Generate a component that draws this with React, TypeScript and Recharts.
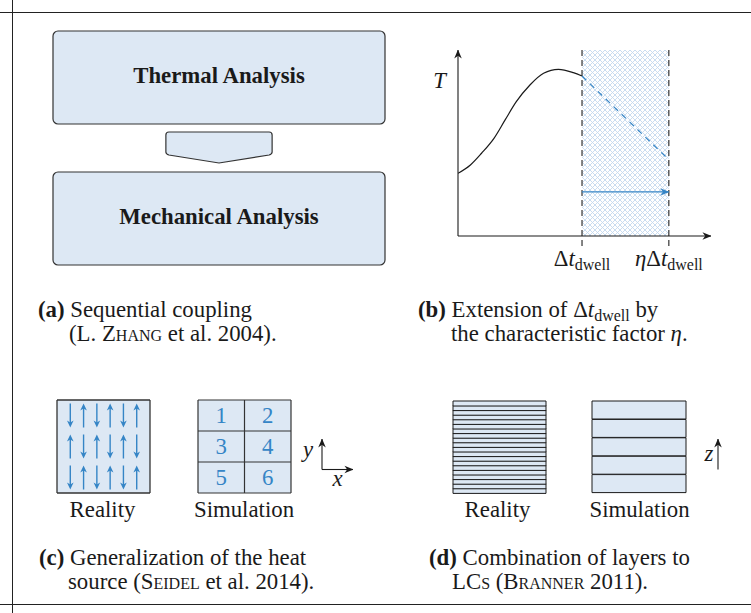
import React from "react";
import {
  Bar,
  BarChart,
  CartesianGrid,
  Line,
  LineChart,
  Rectangle,
  ReferenceArea,
  ReferenceLine,
  Scatter,
  ScatterChart,
  XAxis,
  YAxis,
} from "recharts";

const SERIF = '"Liberation Serif", "Times New Roman", serif';
const INK = "#1a1a1a";
const EDGE = "#333333";
const PALE = "#dde8f4";
const BLUE = "#3585c6";
const HATCH = "#c3d8ee";

// (a) sequential coupling
const stages = ["Thermal Analysis", "Mechanical Analysis"];

// (b) normalised temperature history
const curveTime = [0, 0.1, 0.19, 0.29, 0.38, 0.47, 0.58, 0.69, 0.81, 0.93, 1];
const curveTemp = [0.337, 0.382, 0.445, 0.525, 0.624, 0.722, 0.812, 0.875, 0.896, 0.878, 0.86];
const dwellEnds = [1, 1.7]; // Δt_dwell, ηΔt_dwell
const extendedTemp = [0.86, 0.41];
const shiftLevel = 0.237;
const tempLabelLevel = 0.833;

// (c) heat source directions and simulation cells
const realityFlow = [
  ["down", "up", "down", "up", "down", "up"],
  ["up", "down", "up", "down", "up", "down"],
  ["down", "up", "down", "up", "down", "up"],
];
const cellNumbers = [
  [1, 2],
  [3, 4],
  [5, 6],
];

// (d) layers, bottom to top
const realityLayers = [1, 2, 3, 4, 5, 6, 7, 8, 9, 10, 11, 12, 13, 14, 15, 16, 17, 18, 19, 20];
const simulationLayers = [1, 2, 3, 4, 5];

const stageRows = stages.map((stage) => ({ stage, span: 1 }));
const curveRows = curveTime.map((t, i) => ({ t, T: curveTemp[i] }));
const extendedRows = dwellEnds.map((t, i) => ({ t, T: extendedTemp[i] }));
const flowPoints = realityFlow.flatMap((row, r) => row.map((dir, c) => ({ col: c, row: r, dir })));
const cellPoints = cellNumbers.flatMap((row, r) => row.map((n, c) => ({ col: c + 0.5, row: r + 0.5, n })));
const realityRows = realityLayers.map((layer) => ({ layer, span: 1 }));
const simulationRows = simulationLayers.map((layer) => ({ layer, span: 1 }));

const textStyle = { fontFamily: SERIF, fontSize: 22.8, fill: INK };
const SUB = 16;

function StageBox(props: any) {
  const { x, y, width, height, index, payload } = props;
  const cx = x + width / 2;
  const top = y + height + 8;
  const half = width * 0.16;
  return (
    <g>
      <Rectangle x={x} y={y} width={width} height={height} radius={5} fill={PALE} stroke={EDGE} strokeWidth={1.2} />
      <text x={cx} y={y + height / 2 + 5.5} textAnchor="middle" fontWeight="bold" {...textStyle}>
        {payload.stage}
      </text>
      {index === 0 && (
        <path
          d={`M${cx - half},${top + 3} Q${cx - half},${top} ${cx - half + 3},${top} L${cx + half - 3},${top} Q${cx + half},${top} ${cx + half},${top + 3} L${cx + half},${top + 20} Q${cx + half},${top + 22} ${cx + half - 3},${top + 23} L${cx},${top + 31} L${cx - half + 3},${top + 23} Q${cx - half},${top + 22} ${cx - half},${top + 20} Z`}
          fill={PALE}
          stroke={EDGE}
          strokeWidth={1.2}
        />
      )}
    </g>
  );
}

function FlowArrow(props: any) {
  const { cx, cy, payload } = props;
  const s = payload.dir === "up" ? -1 : 1;
  const tail = cy - s * 12;
  const tip = cy + s * 12;
  return (
    <g>
      <line x1={cx} y1={tail} x2={cx} y2={tip - s * 4} stroke={BLUE} strokeWidth={1.4} />
      <path
        d={`M${cx},${tip} L${cx - 3.3},${tip - s * 7} L${cx},${tip - s * 5} L${cx + 3.3},${tip - s * 7} Z`}
        fill={BLUE}
      />
    </g>
  );
}

function CellNumber(props: any) {
  const { cx, cy, payload } = props;
  return (
    <text x={cx} y={cy + 7.8} textAnchor="middle" {...textStyle} fill={BLUE}>
      {payload.n}
    </text>
  );
}

function DwellTick(props: any) {
  const { x, y, payload } = props;
  return (
    <text x={x} y={y + 30} textAnchor="middle" {...textStyle}>
      {payload.value > 1 && <tspan fontStyle="italic">η</tspan>}
      <tspan>Δ</tspan>
      <tspan fontStyle="italic">t</tspan>
      <tspan fontSize={SUB} dy={4}>
        dwell
      </tspan>
    </text>
  );
}

function TempTick(props: any) {
  const { x, y } = props;
  return (
    <text x={x - 12} y={y + 7} textAnchor="end" fontStyle="italic" {...textStyle}>
      T
    </text>
  );
}

function Place({ left, top, children }: { left: number; top: number; children: React.ReactNode }) {
  return <div style={{ position: "absolute", left, top }}>{children}</div>;
}

// a stack of layers, one bar per layer, filling the whole plot
function LayerStack({ rows, width, height }: { rows: { layer: number; span: number }[]; width: number; height: number }) {
  return (
    <BarChart layout="vertical" width={width} height={height} data={rows} margin={box} barCategoryGap={0}>
      <XAxis type="number" domain={[0, 1]} hide />
      <YAxis type="category" dataKey="layer" reversed hide />
      <Bar dataKey="span" fill={PALE} stroke={INK} strokeWidth={1} isAnimationActive={false} />
    </BarChart>
  );
}

const box = { top: 1, right: 1, bottom: 1, left: 1 };
const sc = { fontVariant: "small-caps" } as const;

export default function App() {
  return (
    <div style={{ position: "absolute", left: 0, top: 0, width: 751, height: 613, background: "#fff" }}>
      <svg width={751} height={613} style={{ position: "absolute", left: 0, top: 0 }}>
        <defs>
          <marker id="tip-ink" viewBox="0 0 10 10" refX="9.5" refY="5" markerWidth="9" markerHeight="9" markerUnits="userSpaceOnUse" orient="auto-start-reverse">
            <path d="M0,0.8 L10,5 L0,9.2 L3,5 Z" fill={INK} />
          </marker>
          <marker id="tip-blue" viewBox="0 0 10 10" refX="9.5" refY="5" markerWidth="9" markerHeight="9" markerUnits="userSpaceOnUse" orient="auto-start-reverse">
            <path d="M0,0.8 L10,5 L0,9.2 L3,5 Z" fill={BLUE} />
          </marker>
          <pattern id="crosshatch" width="5" height="5" patternUnits="userSpaceOnUse">
            <path d="M0,0 L5,5 M5,0 L0,5" stroke={HATCH} strokeWidth={0.9} />
          </pattern>
        </defs>

        <g stroke="#222" strokeWidth={1}>
          <line x1={0} y1={12.5} x2={751} y2={12.5} />
          <line x1={12.5} y1={0} x2={12.5} y2={613} />
          <line x1={0} y1={604.5} x2={751} y2={604.5} />
        </g>

        <g {...textStyle}>
          {/* captions */}
          <text x={38} y={317}>
            <tspan fontWeight="bold">(a)</tspan>
            {" Sequential coupling"}
          </text>
          <text x={69} y={341}>
            {"(L. "}
            <tspan style={sc}>Zhang</tspan>
            {" et al. 2004)."}
          </text>

          <text x={418} y={317}>
            <tspan fontWeight="bold">(b)</tspan>
            {" Extension of Δ"}
            <tspan fontStyle="italic">t</tspan>
            <tspan fontSize={SUB} dy={3.5}>
              dwell
            </tspan>
            <tspan dy={-3.5}>{" by"}</tspan>
          </text>
          <text x={451} y={341}>
            {"the characteristic factor "}
            <tspan fontStyle="italic">η</tspan>.
          </text>

          <text x={39} y={565}>
            <tspan fontWeight="bold">(c)</tspan>
            {" Generalization of the heat"}
          </text>
          <text x={68} y={589}>
            {"source ("}
            <tspan style={sc}>Seidel</tspan>
            {" et al. 2014)."}
          </text>

          <text x={429} y={565}>
            <tspan fontWeight="bold">(d)</tspan>
            {" Combination of layers to"}
          </text>
          <text x={452} y={589}>
            <tspan style={sc}>LCs</tspan>
            {" ("}
            <tspan style={sc}>Branner</tspan>
            {" 2011)."}
          </text>

          <text x={102.5} y={517} textAnchor="middle">Reality</text>
          <text x={244} y={517} textAnchor="middle">Simulation</text>
          <text x={497.5} y={517} textAnchor="middle">Reality</text>
          <text x={639.5} y={517} textAnchor="middle">Simulation</text>

          <text x={308} y={457} textAnchor="middle" fontStyle="italic">y</text>
          <text x={337.5} y={486} textAnchor="middle" fontStyle="italic">x</text>
          <text x={709} y={461} textAnchor="middle" fontStyle="italic">z</text>
        </g>

        <g stroke={INK} strokeWidth={1.1} fill="none">
          <line x1={322} y1={469.5} x2={322} y2={439} markerEnd="url(#tip-ink)" />
          <line x1={322} y1={469.5} x2={353} y2={469.5} markerEnd="url(#tip-ink)" />
          <line x1={718} y1={469.5} x2={718} y2={439} markerEnd="url(#tip-ink)" />
        </g>
      </svg>

      {/* (a) */}
      <Place left={52} top={6}>
        <BarChart layout="vertical" width={334} height={284} data={stageRows} margin={box} barSize={93}>
          <XAxis type="number" domain={[0, 1]} hide />
          <YAxis type="category" dataKey="stage" hide />
          <Bar dataKey="span" isAnimationActive={false} shape={StageBox} />
        </BarChart>
      </Place>

      {/* (b) */}
      <Place left={400} top={30}>
        <LineChart width={330} height={260} margin={{ top: 20, right: 19, bottom: 24, left: 18 }}>
          <XAxis
            type="number"
            dataKey="t"
            domain={[0, 2.04]}
            allowDataOverflow
            ticks={dwellEnds}
            interval={0}
            height={30}
            tickSize={0}
            tickMargin={0}
            tickLine={false}
            tick={DwellTick}
            axisLine={{ stroke: INK, strokeWidth: 1.1, markerEnd: "url(#tip-ink)" }}
          />
          <YAxis
            type="number"
            domain={[0, 1]}
            allowDataOverflow
            ticks={[tempLabelLevel]}
            interval={0}
            width={40}
            tickSize={0}
            tickMargin={0}
            tickLine={false}
            tick={TempTick}
            axisLine={{ stroke: INK, strokeWidth: 1.1, markerStart: "url(#tip-ink)" }}
          />
          <ReferenceArea x1={dwellEnds[0]} x2={dwellEnds[1]} y1={0} y2={1} fill="url(#crosshatch)" fillOpacity={1} stroke="none" />
          {dwellEnds.map((t) => (
            <ReferenceLine
              key={t}
              segment={[
                { x: t, y: 1 },
                { x: t, y: -0.06 },
              ]}
              ifOverflow="visible"
              stroke={EDGE}
              strokeWidth={1.2}
              strokeDasharray="6 4"
            />
          ))}
          <ReferenceLine
            segment={[
              { x: dwellEnds[0], y: shiftLevel },
              { x: dwellEnds[1], y: shiftLevel },
            ]}
            shape={(p: any) => (
              <line x1={p.x1} y1={p.y1} x2={p.x2} y2={p.y2} stroke={BLUE} strokeWidth={1.3} markerEnd="url(#tip-blue)" />
            )}
          />
          <Line data={curveRows} dataKey="T" type="monotone" stroke={INK} strokeWidth={1.2} dot={false} isAnimationActive={false} />
          <Line
            data={extendedRows}
            dataKey="T"
            type="linear"
            stroke={BLUE}
            strokeWidth={1.2}
            strokeDasharray="6 5"
            dot={false}
            isAnimationActive={false}
          />
        </LineChart>
      </Place>

      {/* (c) reality */}
      <Place left={56} top={399}>
        <ScatterChart width={95} height={95} margin={box}>
          <CartesianGrid fill={PALE} fillOpacity={1} stroke={EDGE} strokeWidth={1.3} />
          <XAxis type="number" dataKey="col" domain={[-1, 6]} ticks={[-1, 6]} hide />
          <YAxis type="number" dataKey="row" domain={[-0.5, 2.5]} ticks={[-0.5, 2.5]} reversed hide />
          <Scatter data={flowPoints} shape={FlowArrow} isAnimationActive={false} />
        </ScatterChart>
      </Place>

      {/* (c) simulation */}
      <Place left={197} top={399}>
        <ScatterChart width={95} height={95} margin={box}>
          <CartesianGrid fill={PALE} fillOpacity={1} stroke={EDGE} strokeWidth={1.2} />
          <XAxis type="number" dataKey="col" domain={[0, 2]} ticks={[0, 1, 2]} hide />
          <YAxis type="number" dataKey="row" domain={[0, 3]} ticks={[0, 1, 2, 3]} reversed hide />
          <Scatter data={cellPoints} shape={CellNumber} isAnimationActive={false} />
        </ScatterChart>
      </Place>

      {/* (d) reality */}
      <Place left={452} top={400}>
        <LayerStack rows={realityRows} width={95} height={94} />
      </Place>

      {/* (d) simulation */}
      <Place left={591} top={400}>
        <LayerStack rows={simulationRows} width={96} height={94} />
      </Place>
    </div>
  );
}
